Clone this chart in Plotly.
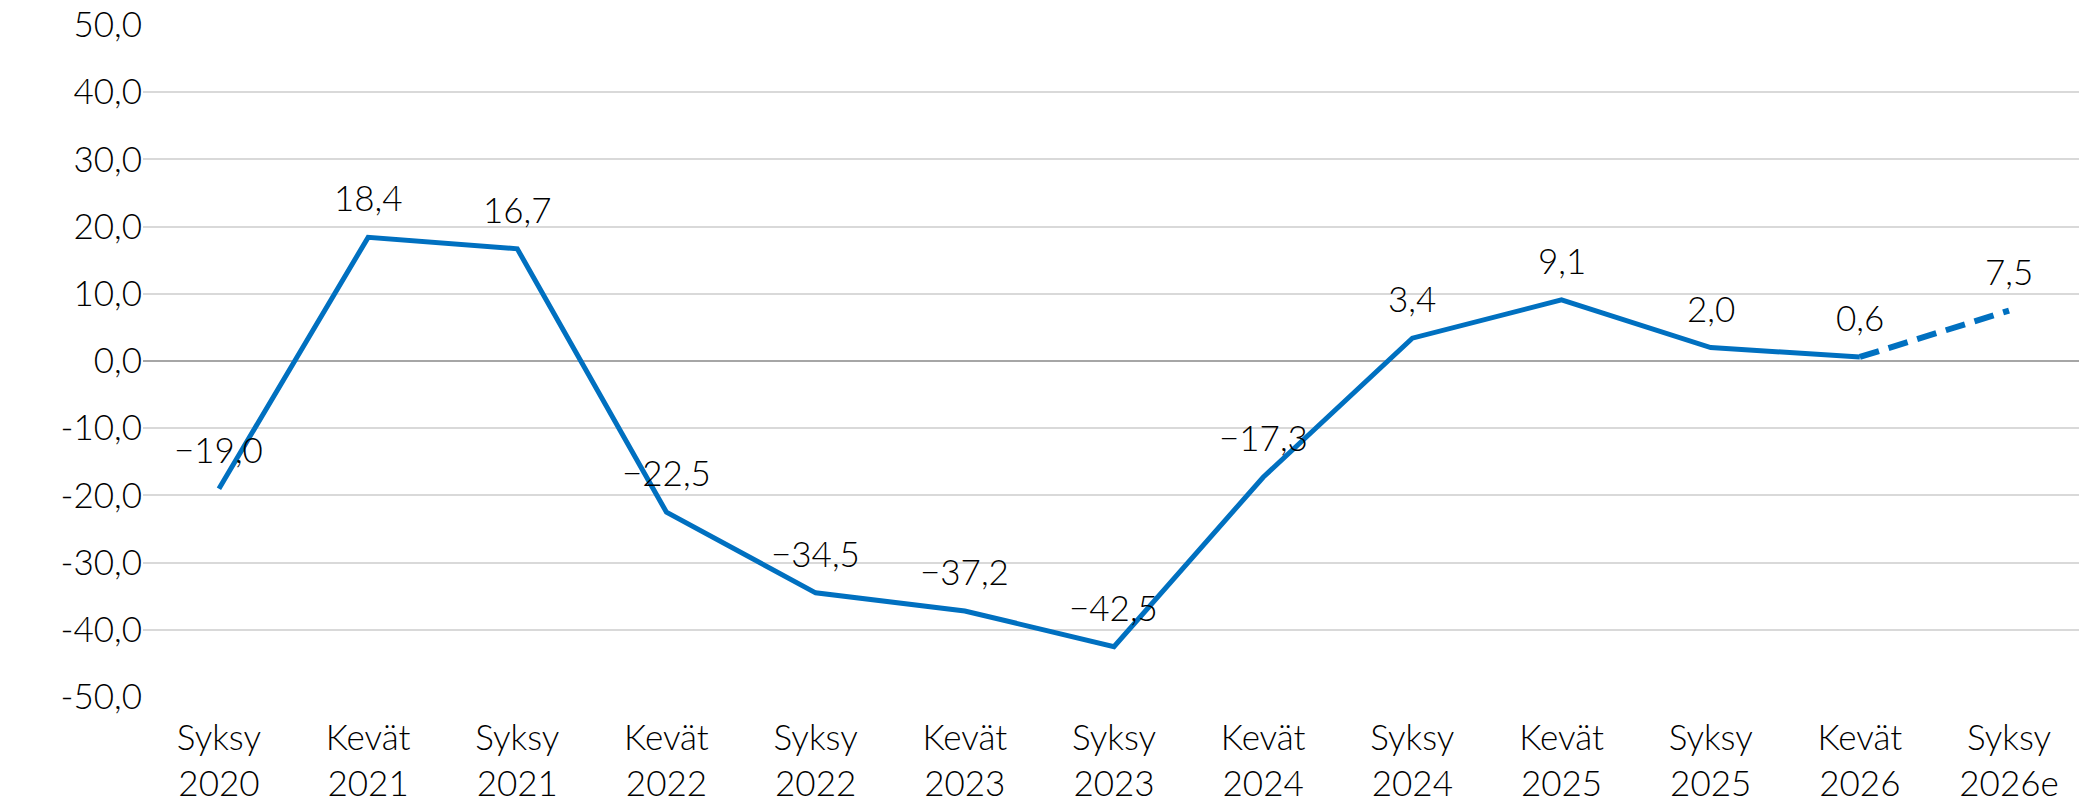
import plotly.graph_objects as go

categories = ["Syksy<br>2020", "Kevät<br>2021", "Syksy<br>2021", "Kevät<br>2022", "Syksy<br>2022",
              "Kevät<br>2023", "Syksy<br>2023", "Kevät<br>2024", "Syksy<br>2024", "Kevät<br>2025",
              "Syksy<br>2025", "Kevät<br>2026", "Syksy<br>2026e"]
values = [-19.0, 18.4, 16.7, -22.5, -34.5, -37.2, -42.5, -17.3, 3.4, 9.1, 2.0, 0.6, 7.5]
forecast_start = 11  # index where dashed forecast segment begins
y_tick_vals = [50, 40, 30, 20, 10, 0, -10, -20, -30, -40, -50]
y_tick_text = ["50,0", "40,0", "30,0", "20,0", "10,0", "0,0", "-10,0", "-20,0", "-30,0", "-40,0", "-50,0"]

FONT = "Lato"
BLUE = "#0070C0"
xs = list(range(len(categories)))

def fmt(v):
    s = f"{abs(v):.1f}".replace(".", ",")
    return ("−" + s) if v < 0 else s

fig = go.Figure()
fig.add_trace(go.Scatter(x=xs[:forecast_start + 1], y=values[:forecast_start + 1], mode="lines",
                         line=dict(color=BLUE, width=5), hoverinfo="skip", cliponaxis=False))
fig.add_trace(go.Scatter(x=xs[forecast_start:], y=values[forecast_start:], mode="lines",
                         line=dict(color=BLUE, width=6, dash="20px,10px"), hoverinfo="skip", cliponaxis=False))

for x, v in zip(xs, values):
    fig.add_annotation(x=x, y=v, text=fmt(v), showarrow=False, yshift=40, xanchor="center",
                       yanchor="middle", font=dict(family=FONT, size=35, color="#000000", weight=300))

fig.update_layout(
    width=2079, height=801,
    margin=dict(l=143, r=0, t=25, b=104, autoexpand=False),
    paper_bgcolor="white", plot_bgcolor="white",
    showlegend=False,
    font=dict(family=FONT, size=35, color="#000000", weight=300),
)
fig.update_xaxes(
    range=[-0.509, 12.469], tickmode="array", tickvals=xs, ticktext=categories,
    showgrid=False, zeroline=False, showline=False, ticks="", automargin=False,
    ticklabelstandoff=17,
    tickfont=dict(family=FONT, size=35, color="#000000", weight=300),
)
fig.update_yaxes(
    range=[-50, 50], tickmode="array", tickvals=y_tick_vals, ticktext=y_tick_text,
    showgrid=True, gridcolor="#D9D9D9", gridwidth=2,
    zeroline=True, zerolinecolor="#A6A6A6", zerolinewidth=2,
    showline=False, ticks="", automargin=False,
    tickfont=dict(family=FONT, size=35, color="#000000", weight=300),
)

fig.write_html("out.html", config={"displayModeBar": False},
               post_script="document.body.style.margin='0';document.body.style.overflow='hidden';")
